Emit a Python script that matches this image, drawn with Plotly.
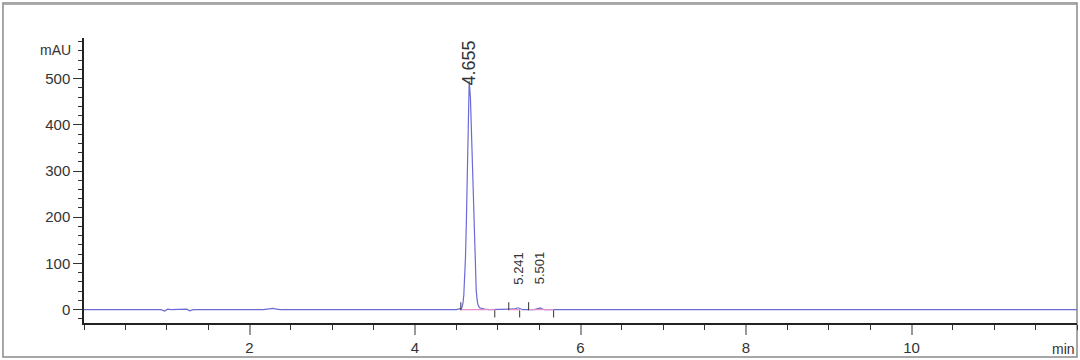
import plotly.graph_objects as go

# ---- chromatogram trace (time in min, signal in mAU) ----
time_min = [0.00, 0.93, 0.975, 1.01, 1.05, 1.15, 1.20, 1.24, 1.28, 1.32,
            2.17, 2.22, 2.28, 2.33, 2.37,
            4.50, 4.54, 4.56, 4.57, 4.58, 4.59, 4.60, 4.61, 4.62, 4.63, 4.64, 4.655,
            4.67, 4.68, 4.69, 4.70, 4.71, 4.72, 4.73, 4.74, 4.75, 4.76, 4.78, 4.80, 4.84, 4.90,
            5.18, 5.21, 5.23, 5.241, 5.255, 5.28, 5.30,
            5.44, 5.47, 5.49, 5.501, 5.515, 5.54, 5.57,
            12.00]
signal_mau = [0.0, 0.0, -3.0, 0.8, 0.0, 0.3, 2.0, 1.0, -2.5, 0.0,
              0.0, 1.8, 2.6, 1.2, 0.0,
              0.0, 0.8, 2.5, 6.0, 14.5, 32.0, 63.0, 113.0, 184.0, 272.0, 365.0, 495.0,
              458.0, 399.0, 324.0, 246.0, 174.0, 115.0, 71.0, 41.0, 22.0, 11.0, 4.0, 2.5, 1.0, 0.0,
              0.0, 1.5, 3.5, 4.0, 3.5, 1.2, 0.0,
              0.0, 1.5, 3.5, 4.0, 3.5, 1.3, 0.0,
              0.0]

# ---- integrated peaks ----
peak_rt = [4.655, 5.241, 5.501]
peak_labels = ["4.655", "5.241", "5.501"]
peak_label_base = [480, 50, 50]          # mAU where the label starts
peak_label_size = [18, 13, 13]
peak_start = [4.554, 5.133, 5.373]
peak_end = [4.964, 5.265, 5.675]

# ---- axes ----
x_tick_vals = [2, 4, 6, 8, 10]
y_tick_vals = [0, 100, 200, 300, 400, 500]
x_range = [0, 12]
y_range = [-29, 588]

line_color = "#6b6bd6"
base_color = "#e58fc8"
font_family = "Liberation Sans, Arial, sans-serif"

fig = go.Figure()

fig.add_trace(go.Scatter(x=time_min, y=signal_mau, mode="lines",
                         line=dict(color=line_color, width=1.2), hoverinfo="skip"))

# baselines between start/end markers
bx, by = [], []
for s, e in zip(peak_start, peak_end):
    bx += [s, e, None]
    by += [0, 0, None]
fig.add_trace(go.Scatter(x=bx, y=by, mode="lines",
                         line=dict(color=base_color, width=1.2), hoverinfo="skip"))

# start (up) and end (down) integration markers
mx, my = [], []
for s in peak_start:
    mx += [s, s, None]
    my += [-1.5, 16, None]
for e in peak_end:
    mx += [e, e, None]
    my += [-1.5, -17, None]
fig.add_trace(go.Scatter(x=mx, y=my, mode="lines",
                         line=dict(color="#333333", width=1), hoverinfo="skip"))

annotations = []
for rt, lab, yb, fs in zip(peak_rt, peak_labels, peak_label_base, peak_label_size):
    annotations.append(dict(x=rt, y=yb, xref="x", yref="y", text=lab, showarrow=False,
                            textangle=-90, xanchor="center", yanchor="bottom",
                            font=dict(family=font_family, size=fs, color="#333333")))
annotations.append(dict(x=0, y=563, xref="paper", yref="y", text="mAU", showarrow=False,
                        xanchor="right", yanchor="middle", xshift=-11,
                        font=dict(family=font_family, size=14, color="#333333")))
annotations.append(dict(x=1, y=-0.09, xref="paper", yref="paper", text="min", showarrow=False,
                        xanchor="right", yanchor="middle",
                        font=dict(family=font_family, size=14, color="#333333")))

shapes = [
    dict(type="rect", xref="paper", yref="paper", x0=-0.0816, x1=1.0, y0=-0.1193, y1=1.1228,
         line=dict(color="#8a8a8a", width=1.5), fillcolor="rgba(0,0,0,0)", layer="below"),
    dict(type="line", xref="paper", yref="paper", x0=-0.0816, x1=1.0, y0=1.118, y1=1.118,
         line=dict(color="#a0a0a0", width=1)),
]

fig.update_layout(
    width=1080, height=360,
    margin=dict(l=84, r=3, t=38, b=37),
    paper_bgcolor="white", plot_bgcolor="white",
    showlegend=False,
    font=dict(family=font_family, size=15, color="#333333"),
    annotations=annotations, shapes=shapes,
    xaxis=dict(range=x_range, tickmode="array", tickvals=x_tick_vals,
               showgrid=False, zeroline=False, showline=True, linecolor="#222222", linewidth=1.5,
               ticks="outside", ticklen=10, tickcolor="#999999", tickwidth=1.5,
               tickfont=dict(size=15, color="#333333"),
               minor=dict(dtick=0.5, tick0=0, ticks="outside", ticklen=5,
                          tickcolor="#333333", tickwidth=1.2, showgrid=False)),
    yaxis=dict(range=y_range, tickmode="array", tickvals=y_tick_vals,
               showgrid=False, zeroline=False, showline=True, linecolor="#222222", linewidth=1.5,
               ticks="outside", ticklen=9, tickcolor="#333333", tickwidth=1.2,
               tickfont=dict(size=15, color="#333333"),
               minor=dict(dtick=20, tick0=0, ticks="outside", ticklen=4,
                          tickcolor="#333333", tickwidth=1, showgrid=False)),
)

fig.write_html("out.html")
